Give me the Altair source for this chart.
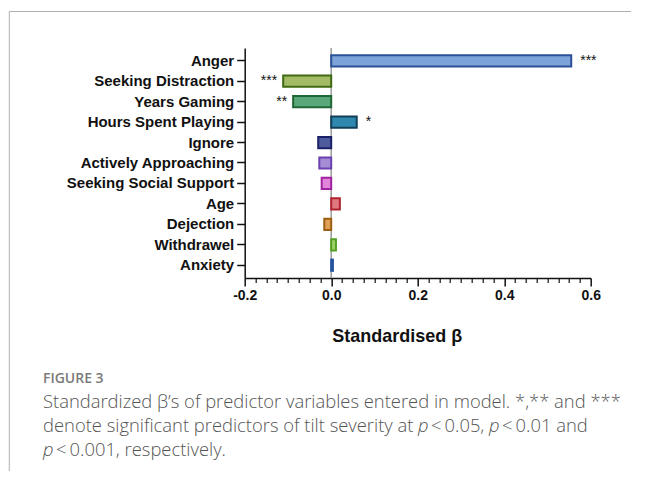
import altair as alt
import pandas as pd

predictors = ["Anger", "Seeking Distraction", "Years Gaming", "Hours Spent Playing",
              "Ignore", "Actively Approaching", "Seeking Social Support\u00a0", "Age",
              "Dejection", "Withdrawel", "Anxiety"]
betas = [0.555, -0.111, -0.088, 0.059, -0.030, -0.0275, -0.022, 0.020, -0.016, 0.011, 0.004]
signif = ["***", "***", "**", "*", "", "", "", "", "", "", ""]
fills = ["#7ea3d8", "#a3bb66", "#5aa87a", "#2f88ae", "#4e5b9c", "#a58dd6",
         "#e184dc", "#e07880", "#dfa055", "#a2d06a", "#2f5fae"]
strokes = ["#2a5197", "#3f6a12", "#1f6836", "#123f57", "#1b2068", "#6c40b0",
           "#a1239f", "#b0222f", "#9c5e12", "#52a122", "#22529e"]

x_major = [-0.2, 0.0, 0.2, 0.4, 0.6]
x_minor = [-0.175, -0.15, -0.125, -0.1, -0.075, -0.05, -0.025,
           0.025, 0.05, 0.075, 0.1, 0.125, 0.15, 0.175,
           0.225, 0.25, 0.275, 0.3, 0.325, 0.35, 0.375,
           0.425, 0.45, 0.475, 0.5, 0.525, 0.55, 0.575]

fig_label = "FIGURE 3"
# caption segments: (line index, x offset from caption left, text, italic)
caption_segments = [
    (0, 0, "Standardized \u03b2\u2019s of predictor variables entered in model. *,** and ***", False),
    (1, 0, "denote significant predictors of tilt severity at", False),
    (1, 375, "p", True),
    (1, 388, "<\u20090.05,", False),
    (1, 446, "p", True),
    (1, 459, "<\u20090.01 and", False),
    (2, 0, "p", True),
    (2, 13, "<\u20090.001, respectively.", False),
]

df = pd.DataFrame({"Predictor": predictors, "beta": betas, "sig": signif})

W, H = 346, 230
xscale = alt.Scale(domain=[-0.2, 0.6], nice=False, zero=False)
yscale = alt.Scale(domain=predictors, paddingInner=0.45, paddingOuter=0.35)
BOLD = "Liberation Sans"

major_axis = alt.Axis(values=x_major, title="Standardised \u03b2",
                      labelExpr="datum.value < 0 ? '-' + format(-datum.value, '.1f') : format(datum.value, '.1f')",
                      orient="bottom", domainColor="#111", domainWidth=1.5,
                      tickColor="#111", tickWidth=1.5, tickSize=8, grid=False,
                      labelFont=BOLD, labelFontWeight="bold", labelFontSize=14,
                      labelColor="#111", labelPadding=3, labelFlush=False,
                      titleFont=BOLD, titleFontWeight="bold", titleFontSize=18,
                      titleColor="#111", titleX=152, titleY=64,
                      titleAlign="center", titleBaseline="alphabetic")
minor_axis = alt.Axis(values=x_minor, orient="bottom", labels=False, domain=False,
                      tickColor="#111", tickWidth=1.2, tickSize=4.5, grid=False,
                      title=None)
y_axis = alt.Axis(title=None, domainColor="#111", domainWidth=1.5,
                  tickColor="#111", tickWidth=1.5, tickSize=8,
                  labelFont=BOLD, labelFontWeight="bold", labelFontSize=15,
                  labelColor="#111", labelPadding=3, grid=False)

bars = alt.Chart(df).mark_bar(strokeWidth=2).encode(
    y=alt.Y("Predictor:N", sort=predictors, scale=yscale, axis=y_axis),
    x=alt.X("beta:Q", scale=xscale, axis=major_axis),
    fill=alt.Fill("Predictor:N", scale=alt.Scale(domain=predictors, range=fills), legend=None),
    stroke=alt.Stroke("Predictor:N", scale=alt.Scale(domain=predictors, range=strokes), legend=None),
)

zero = alt.Chart(pd.DataFrame({"z": [0.0]})).mark_rule(color="#9a9a9a", strokeWidth=1.5).encode(
    x=alt.X("z:Q", scale=xscale, axis=minor_axis)
)

pos_txt = alt.Chart(df).transform_filter("datum.sig != '' && datum.beta > 0").mark_text(
    align="left", dx=9, fontSize=14, font=BOLD, color="#111").encode(
    x=alt.X("beta:Q", scale=xscale, axis=None),
    y=alt.Y("Predictor:N", sort=predictors, scale=yscale, axis=y_axis),
    text="sig:N")
neg_txt = alt.Chart(df).transform_filter("datum.sig != '' && datum.beta < 0").mark_text(
    align="right", dx=-6, fontSize=14, font=BOLD, color="#111").encode(
    x=alt.X("beta:Q", scale=xscale, axis=None),
    y=alt.Y("Predictor:N", sort=predictors, scale=yscale, axis=y_axis),
    text="sig:N")

one = alt.Data(values=[{"a": 1}])
OX, OY = 236.7, 40
frame_top = alt.Chart(one).mark_rule(color="#b0b0b0", strokeWidth=1).encode(
    x=alt.value(9.3 - 8 - OX), x2=alt.value(646 - 8 - OX), y=alt.value(11.5 - 8 - OY))
frame_left = alt.Chart(one).mark_rule(color="#b0b0b0", strokeWidth=1).encode(
    x=alt.value(9.3 - 8 - OX), y=alt.value(11.5 - 8 - OY), y2=alt.value(481 - 8 - OY))

CX = 43
cap_layers = [alt.Chart(one).mark_text(align="left", baseline="middle", font="Open Sans",
                                       fontSize=14, fontWeight=600, color="#7a7a7a").encode(
    x=alt.value(CX - 8 - OX), y=alt.value(379 - 8 - OY), text=alt.value(fig_label))]
for li, off, seg, ital in caption_segments:
    cap_layers.append(alt.Chart(one).mark_text(
        align="left", baseline="middle", font="Open Sans", fontSize=18.4, fontWeight=300,
        fontStyle="italic" if ital else "normal", color="#555555").encode(
        x=alt.value(CX + off - 8 - OX), y=alt.value(402 + 24 * li - 8 - OY), text=alt.value(seg)))

chart = alt.layer(zero, bars, pos_txt, neg_txt, frame_top, frame_left, *cap_layers).resolve_axis(
    x="independent").properties(
    width=W, height=H, autosize="none",
    padding={"left": OX, "top": OY, "right": 40, "bottom": 193},
    background="white",
).configure_view(strokeWidth=0)

chart.save("out.html", embed_options={"renderer": "svg", "actions": False})
